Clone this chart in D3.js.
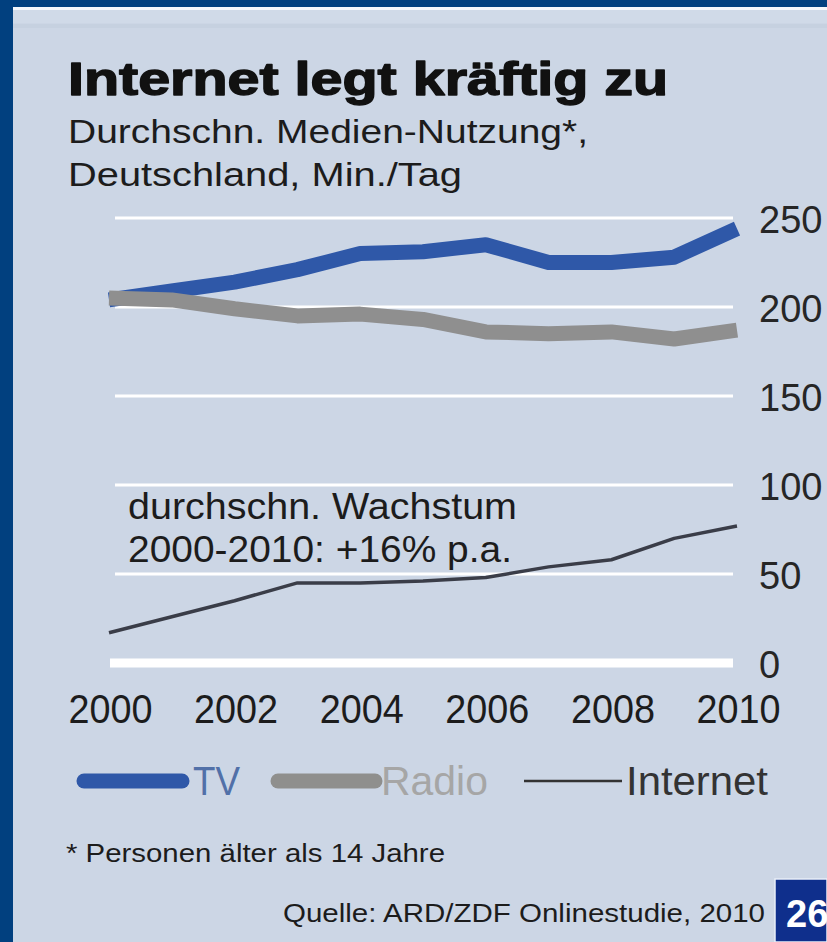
<!DOCTYPE html>
<html>
<head>
<meta charset="utf-8">
<script src="https://cdn.jsdelivr.net/npm/d3@7"></script>
<style>
  html, body { margin: 0; padding: 0; background: #01407f; }
  svg { display: block; }
  text { font-family: "Liberation Sans", Arial, sans-serif; }
</style>
</head>
<body>
<svg id="chart" width="827" height="942"></svg>
<script>
// ---- data ----
const years = [2000, 2001, 2002, 2003, 2004, 2005, 2006, 2007, 2008, 2009, 2010];
const tv = [204, 209, 214, 221, 230, 231, 235, 225, 225, 228, 244];
const radio = [205, 204, 199, 195, 196, 193, 186, 185, 186, 182, 187];
const internet = [17, 26, 35, 45, 45, 46, 48, 54, 58, 70, 77];
const yTicks = [0, 50, 100, 150, 200, 250];
const xTicks = [2000, 2002, 2004, 2006, 2008, 2010];
const seriesNames = ["TV", "Radio", "Internet"];

const title = "Internet legt kräftig zu";
const subtitle1 = "Durchschn. Medien-Nutzung*,";
const subtitle2 = "Deutschland, Min./Tag";
const note1 = "durchschn. Wachstum";
const note2 = "2000-2010: +16% p.a.";
const footnote = "* Personen älter als 14 Jahre";
const source = "Quelle: ARD/ZDF Onlinestudie, 2010";

// ---- layout ----
const svg = d3.select("#chart");
const W = 827, H = 942;

// frame
svg.append("rect").attr("x", 0).attr("y", 0).attr("width", W).attr("height", H).attr("fill", "#01407f");
svg.append("rect").attr("x", 13).attr("y", 7).attr("width", W - 13).attr("height", 3).attr("fill", "#f4f7fb");
svg.append("rect").attr("x", 13).attr("y", 10).attr("width", W - 13).attr("height", H - 10).attr("fill", "#ccd6e5");
svg.append("rect").attr("x", 13).attr("y", 10).attr("width", W - 13).attr("height", 13).attr("fill", "#d0dae8");
svg.append("rect").attr("x", 13).attr("y", 24).attr("width", W - 13).attr("height", 4).attr("fill", "#c6d1e0");

const x = d3.scaleLinear().domain([2000, 2010]).range([109, 737]);
const y = d3.scaleLinear().domain([0, 250]).range([663, 218]);

function txt(str, xx, yy, size, len, opts = {}) {
  const t = svg.append("text").attr("x", xx).attr("y", yy)
    .attr("font-size", size).attr("fill", opts.fill || "#1c1c1c").text(str);
  if (opts.weight) t.attr("font-weight", opts.weight);
  if (opts.stroke) t.attr("stroke", opts.stroke).attr("stroke-width", opts.sw || 1).attr("stroke-linejoin", "round");
  if (len) t.attr("textLength", len).attr("lengthAdjust", "spacingAndGlyphs");
  return t;
}
txt(title, 68, 95, 46, 600, { weight: "bold", fill: "#111", stroke: "#111", sw: 1.4 });
txt(subtitle1, 68, 143, 34, 520);
txt(subtitle2, 68, 186, 34, 394);

// gridlines
svg.append("g").selectAll("line").data(yTicks.filter(d => d > 0)).join("line")
  .attr("x1", 115).attr("x2", 733)
  .attr("y1", d => y(d)).attr("y2", d => y(d))
  .attr("stroke", "#ffffff").attr("stroke-width", 3);
svg.append("line").attr("x1", 110).attr("x2", 733).attr("y1", y(0)).attr("y2", y(0))
  .attr("stroke", "#ffffff").attr("stroke-width", 9);

// y labels (right)
const yAxis = d3.axisRight(y).tickValues(yTicks).tickSize(0).tickPadding(0);
const gy = svg.append("g").attr("transform", "translate(759,2)").call(yAxis);
gy.select(".domain").remove();
gy.selectAll("text").attr("font-size", 38).attr("fill", "#262626")
  .style("font-family", "'Liberation Sans', Arial, sans-serif")
  .attr("x", 0).attr("text-anchor", "start");

// x labels
const xAxis = d3.axisBottom(x).tickValues(xTicks).tickFormat(d3.format("d")).tickSize(0).tickPadding(0);
const gx = svg.append("g").attr("transform", "translate(0,695)").call(xAxis);
gx.select(".domain").remove();
gx.selectAll("text").attr("font-size", 40).attr("fill", "#1c1c1c")
  .style("font-family", "'Liberation Sans', Arial, sans-serif")
  .attr("textLength", 84).attr("lengthAdjust", "spacingAndGlyphs")
  .attr("dx", 1);

// annotation
txt(note1, 128, 519, 36, 389);
txt(note2, 128, 562, 36, 384);

// lines
const line = d3.line().x((d, i) => x(years[i])).y(d => y(d));
svg.append("path").datum(tv).attr("d", line).attr("fill", "none")
  .attr("stroke", "#2f58a8").attr("stroke-width", 15).attr("stroke-linejoin", "round").attr("stroke-linecap", "butt");
svg.append("path").datum(radio).attr("d", line).attr("fill", "none")
  .attr("stroke", "#8f8f8f").attr("stroke-width", 15).attr("stroke-linejoin", "round").attr("stroke-linecap", "butt");
svg.append("path").datum(internet).attr("d", line).attr("fill", "none")
  .attr("stroke", "#3a3d48").attr("stroke-width", 3.5).attr("stroke-linejoin", "round");

// legend
const legend = [
  { name: seriesNames[0], x1: 84, x2: 182, w: 15, color: "#2f58a8", tx: 193, tl: 47, tc: "#5170a8" },
  { name: seriesNames[1], x1: 278, x2: 375, w: 15, color: "#8f8f8d", tx: 381, tl: 107, tc: "#a6a6a6" },
  { name: seriesNames[2], x1: 524, x2: 622, w: 2.5, color: "#333", tx: 626, tl: 142, tc: "#333" }
];
const lg = svg.append("g");
legend.forEach(l => {
  lg.append("line").attr("x1", l.x1).attr("x2", l.x2).attr("y1", 781).attr("y2", 781)
    .attr("stroke", l.color).attr("stroke-width", l.w).attr("stroke-linecap", l.w > 5 ? "round" : "butt");
  lg.append("text").attr("x", l.tx).attr("y", 795).attr("font-size", 40).attr("fill", l.tc)
    .attr("textLength", l.tl).attr("lengthAdjust", "spacingAndGlyphs").text(l.name);
});

// footnote & source
txt(footnote, 66, 862, 26, 379);
txt(source, 283, 922, 26, 482);

// logo box
svg.append("rect").attr("x", 775).attr("y", 879).attr("width", 52).attr("height", 63).attr("fill", "#0f2f8c")
  .attr("stroke", "#e8eef8").attr("stroke-width", 1.5);
svg.append("text").attr("x", 786).attr("y", 927).attr("font-size", 38).attr("font-weight", "bold")
  .attr("fill", "#ffffff").text("26");
</script>
</body>
</html>
